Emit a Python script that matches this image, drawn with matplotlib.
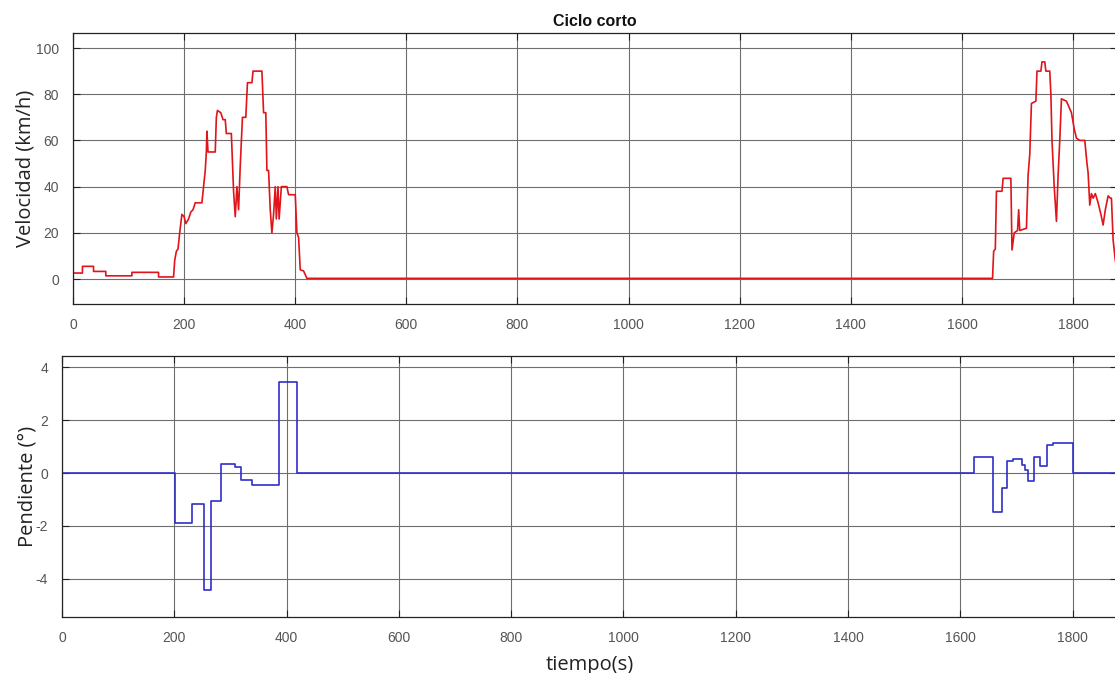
import matplotlib
matplotlib.use('Agg')
import matplotlib.pyplot as plt

plt.rcParams['axes.unicode_minus'] = False

# velocidad del ciclo corto (s, km/h)
vel_t = [0, 17, 17, 37, 37, 59, 59, 106, 106, 154, 154, 181, 183, 186, 189, 192,
         196, 200, 203, 208, 212, 216, 220, 232, 235, 238, 240, 241, 243, 256, 258,
         260, 266, 270, 274, 276, 285, 289, 292, 295, 298, 301, 305, 311, 314, 322,
         324, 340, 343, 347, 349, 352, 355, 358, 361, 364, 366, 369, 371, 375, 385,
         388, 400, 403, 406, 409, 415, 421,
         1655, 1657, 1660, 1662, 1672, 1674, 1688, 1690, 1694, 1700, 1702, 1704,
         1716, 1719, 1722, 1725, 1733, 1735, 1742, 1744, 1749, 1751, 1758, 1760,
         1762, 1766, 1770, 1773, 1776, 1779, 1788, 1797, 1802, 1806, 1812, 1821,
         1825, 1827, 1830, 1833, 1836, 1840, 1845, 1850, 1854, 1858, 1863, 1867,
         1869, 1872, 1876, 1879]
vel_v = [2.6, 2.6, 5.5, 5.5, 3.3, 3.3, 1.4, 1.4, 2.9, 2.9, 0.9, 0.9, 8, 12, 13, 20,
         28, 27, 24, 26, 29, 30, 33, 33, 40, 47, 55, 64, 55, 55, 70,
         73, 72, 69, 69, 63, 63, 38, 27, 40, 30, 49, 70, 70, 85, 85,
         90, 90, 72, 72, 47, 47, 30, 20, 28, 40, 26, 40, 26, 40, 40,
         36.5, 36.5, 20, 18, 4, 3.5, 0.3,
         0.3, 12, 13, 38, 38, 43.6, 43.6, 12.6, 20, 21, 30, 21,
         22, 45, 54, 76, 77, 90, 90, 94, 94, 90, 90, 80,
         60, 40, 25, 45, 60, 78, 77, 72, 65, 61, 60, 60,
         50, 46, 32, 37, 35, 37, 33, 28, 23.4, 30, 36, 35,
         35, 17, 8, 5]

# pendiente de la carretera (s, grados)
pend_t = [0, 201, 201, 232, 232, 253, 253, 265, 265, 284, 284, 309, 309, 318, 318,
          339, 339, 386, 386, 419, 419,
          1624, 1624, 1659, 1659, 1675, 1675, 1683, 1683, 1693, 1693, 1710, 1710,
          1716, 1716, 1720, 1720, 1731, 1731, 1742, 1742, 1754, 1754, 1765, 1765,
          1801, 1801, 1879]
pend_v = [0, 0, -1.9, -1.9, -1.18, -1.18, -4.42, -4.42, -1.04, -1.04, 0.35, 0.35,
          0.23, 0.23, -0.28, -0.28, -0.47, -0.47, 3.45, 3.45, 0,
          0, 0.62, 0.62, -1.47, -1.47, -0.58, -0.58, 0.45, 0.45, 0.52, 0.52, 0.31,
          0.31, 0.1, 0.1, -0.3, -0.3, 0.59, 0.59, 0.26, 0.26, 1.07, 1.07, 1.12,
          1.12, 0, 0]

x_ticks = list(range(0, 2000, 200))
vel_ticks = [0, 20, 40, 60, 80, 100]
pend_ticks = [-4, -2, 0, 2, 4]

TICK_FONT = 'Liberation Sans'
LABEL_FONT = 'Open Sans'


def style_axes(ax):
    ax.grid(True, color='#6e6e6e', linewidth=0.8)
    ax.set_axisbelow(True)
    ax.tick_params(direction='in', length=5, width=0.8, top=True, right=True,
                   colors='#222222', labelcolor='#555555', labelsize=10, pad=10)
    for lab in ax.get_xticklabels() + ax.get_yticklabels():
        lab.set_fontfamily(TICK_FONT)
    for sp in ax.spines.values():
        sp.set_color('#222222')
        sp.set_linewidth(0.9)


fig = plt.figure(figsize=(11.15, 6.73), dpi=100)
W, H = 1115.0, 673.0

ax1 = fig.add_axes([73 / W, (H - 304) / H, (1117 - 73) / W, (304 - 33) / H])
ax1.plot(vel_t, vel_v, color='#e0141a', linewidth=1.2)
ax1.set_xlim(0, 1879)
ax1.set_ylim(-10.8, 106.5)
ax1.set_xticks(x_ticks)
ax1.set_yticks(vel_ticks)
ax1.set_ylabel('Velocidad (km/h)', fontfamily=LABEL_FONT, fontsize=14.5,
               color='#222222', labelpad=0)
ax1.set_title('Ciclo corto', fontfamily=TICK_FONT, fontweight='bold',
              fontsize=11.5, color='#111111', pad=5)
style_axes(ax1)

ax2 = fig.add_axes([62 / W, (H - 617) / H, (1117 - 62) / W, (617 - 356) / H])
ax2.plot(pend_t, pend_v, color='#2f2fc8', linewidth=1.2)
ax2.set_xlim(0, 1879)
ax2.set_ylim(-5.45, 4.43)
ax2.set_xticks(x_ticks)
ax2.set_yticks(pend_ticks)
ax2.set_ylabel('Pendiente (°)', fontfamily=LABEL_FONT, fontsize=14.5,
               color='#222222', labelpad=-1)
ax2.set_xlabel('tiempo(s)', fontfamily=LABEL_FONT, fontsize=14.5,
               color='#222222', labelpad=7)
style_axes(ax2)

fig.savefig('out.png', dpi=100)
